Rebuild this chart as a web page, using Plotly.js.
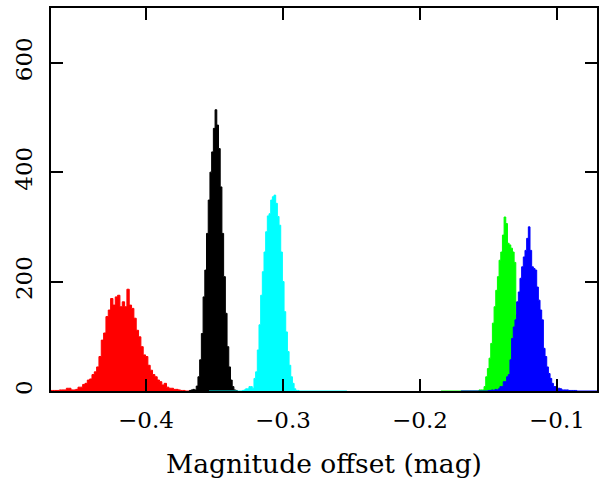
<!DOCTYPE html>
<html>
<head>
<meta charset="utf-8">
<script src="https://cdn.plot.ly/plotly-3.0.1.min.js"></script>
<style>
  html, body { margin: 0; padding: 0; background: #ffffff; }
  #chart { width: 607px; height: 483px; }
</style>
</head>
<body>
<div id="chart"></div>
<script>
// ---- Data ----
// Each series: histogram range (lo/hi, zero outside the filled bins), first bin edge, bin width, counts.
const seriesNames  = ["red", "black", "cyan", "green", "blue"];
const seriesColors = ["#ff0000", "#000000", "#00ffff", "#00ff00", "#0000ff"];

const redLo = -0.4700, redHi = -0.3672, redStart = -0.4700, redWidth = 0.0017;
const redCounts = [1,1,1,1, 2,2,2, 5,5, 2,2,3, 7,7, 12,14, 20,22, 30,35, 44, 63, 93, 106, 136, 148, 169, 157, 172, 175, 154, 163, 154, 186, 157, 151, 133, 111, 99, 81, 66, 63, 47, 38, 30, 26, 20, 17, 11, 14, 7, 5, 5, 3, 3, 2, 1, 1];

const blackLo = -0.3683, blackHi = -0.3333, blackStart = -0.3683, blackWidth = 0.00125;
const blackCounts = [1,2,3,2,9,26,57,105,172,221,288,349,400,437,480,514,486,443,373,288,209,142,81,44,20,8,2,1];

const cyanLo = -0.3540, cyanHi = -0.2533, cyanStart = -0.3297, cyanWidth = 0.00122;
const cyanCounts = [1,2,4,4,8,8,5,23,35,75,121,175,218,254,291,320,324,349,355,358,343,319,303,254,200,145,108,72,47,26,14,4,1,1];

const greenLo = -0.1847, greenHi = -0.0869, greenStart = -0.1569, greenWidth = 0.00122;
const greenCounts = [2,2,2,8,26,41,60,87,124,154,184,209,239,254,285,318,306,270,267,261,254,235,140,110,80,55,38,25,16,10,6,4,3,2,2,1,1];

const blueLo = -0.1701, blueHi = -0.0600, blueStart = -0.1502, blueWidth = 0.00122;
const blueCounts = [1,1,2,1,3,2,4, 8,8,17,17,26,30,57,96,117,130,163,181,206,227,245,257,279,300,257,227,224,221,190,166,148,130,78,63,44,32,23,14,8,8,5,5,4,2,2,2,2,1,1,1,1,1];

const xTickVals = [-0.4, -0.3, -0.2, -0.1];
const xTickText = ["\u22120.4", "\u22120.3", "\u22120.2", "\u22120.1"];
const yTickVals = [0, 200, 400, 600];
const yTickText = ["0", "200", "400", "600"];
const xTitle = "Magnitude offset (mag)";
const xRange = [-0.4693, -0.0708];
const yRange = [0, 700];

// ---- Build step-filled histogram traces ----
function histTrace(lo, hi, start, width, counts, color, name) {
  const x = [lo], y = [0];
  for (let i = 0; i < counts.length; i++) {
    x.push(start + i * width);
    y.push(counts[i]);
  }
  x.push(start + counts.length * width); y.push(0);
  x.push(hi); y.push(0);
  return {
    type: "scatter", mode: "lines", name: name,
    x: x, y: y,
    line: { shape: "hv", color: color, width: 1 },
    fill: "tozeroy", fillcolor: color,
    hoverinfo: "skip"
  };
}

const traces = [
  histTrace(redLo, redHi, redStart, redWidth, redCounts, seriesColors[0], seriesNames[0]),
  histTrace(blackLo, blackHi, blackStart, blackWidth, blackCounts, seriesColors[1], seriesNames[1]),
  histTrace(cyanLo, cyanHi, cyanStart, cyanWidth, cyanCounts, seriesColors[2], seriesNames[2]),
  histTrace(greenLo, greenHi, greenStart, greenWidth, greenCounts, seriesColors[3], seriesNames[3]),
  histTrace(blueLo, blueHi, blueStart, blueWidth, blueCounts, seriesColors[4], seriesNames[4])
];

const fontFam = "DejaVu Serif, Liberation Serif, serif";
const layout = {
  width: 607, height: 483,
  margin: { l: 51, r: 10, t: 8, b: 92, pad: 0 },
  paper_bgcolor: "#ffffff", plot_bgcolor: "#ffffff",
  showlegend: false,
  font: { family: fontFam, color: "#000000", size: 23 },
  xaxis: {
    range: xRange, autorange: false,
    tickmode: "array", tickvals: xTickVals, ticktext: xTickText,
    ticks: "inside", ticklen: 12, tickwidth: 2, tickcolor: "#000000",
    showline: true, linewidth: 2, linecolor: "#000000", mirror: "ticks",
    showgrid: false, zeroline: false,
    tickfont: { family: fontFam, size: 23, color: "#000000" },
    ticklabelstandoff: 7,
    title: { text: xTitle, font: { family: fontFam, size: 26.5, color: "#000000" }, standoff: 23 }
  },
  yaxis: {
    range: yRange, autorange: false,
    tickmode: "array", tickvals: yTickVals, ticktext: yTickText,
    ticks: "inside", ticklen: 12, tickwidth: 2, tickcolor: "#000000",
    showline: true, linewidth: 2, linecolor: "#000000", mirror: "ticks",
    showgrid: false, zeroline: false,
    tickangle: -90,
    tickfont: { family: fontFam, size: 23, color: "#000000" },
    ticklabelstandoff: 8
  }
};

Plotly.newPlot("chart", traces, layout, { staticPlot: true, displayModeBar: false });
</script>
</body>
</html>
